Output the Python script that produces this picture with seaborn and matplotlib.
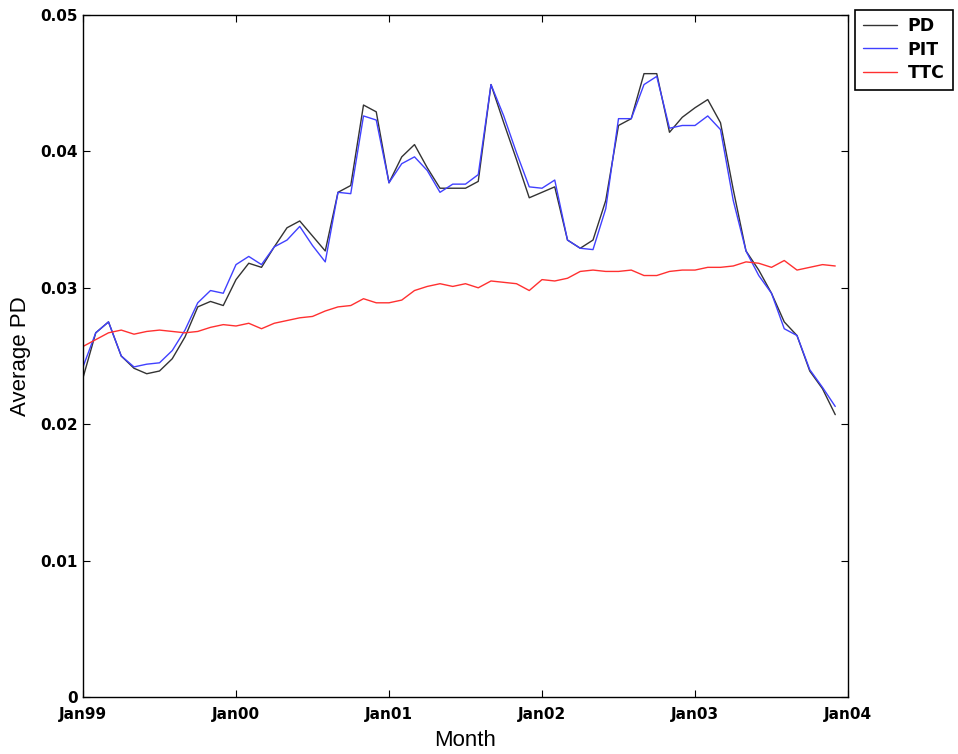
import numpy as np
import pandas as pd
import matplotlib
matplotlib.use("Agg")
import matplotlib.pyplot as plt
import seaborn as sns

# ---- data ----
tick_labels = ["Jan99", "Jan00", "Jan01", "Jan02", "Jan03", "Jan04"]
month_index = list(range(60))  # Jan99 .. Dec03

pd_vals = [0.0234, 0.0267, 0.0275, 0.0250, 0.0241, 0.0237, 0.0239, 0.0248, 0.0264, 0.0286,
           0.0290, 0.0287, 0.0306, 0.0318, 0.0315, 0.0330, 0.0344, 0.0349, 0.0338, 0.0327,
           0.0370, 0.0375, 0.0434, 0.0429, 0.0377, 0.0396, 0.0405, 0.0388, 0.0373, 0.0373,
           0.0373, 0.0378, 0.0449, 0.0421, 0.0394, 0.0366, 0.0370, 0.0374, 0.0335, 0.0329,
           0.0335, 0.0364, 0.0419, 0.0424, 0.0457, 0.0457, 0.0414, 0.0425, 0.0432, 0.0438,
           0.0421, 0.0372, 0.0327, 0.0313, 0.0296, 0.0275, 0.0265, 0.0239, 0.0226, 0.0207]

pit_vals = [0.0242, 0.0267, 0.0275, 0.0250, 0.0242, 0.0244, 0.0245, 0.0254, 0.0269, 0.0289,
            0.0298, 0.0296, 0.0317, 0.0323, 0.0317, 0.0330, 0.0335, 0.0345, 0.0331, 0.0319,
            0.0370, 0.0369, 0.0426, 0.0423, 0.0377, 0.0391, 0.0396, 0.0386, 0.0370, 0.0376,
            0.0376, 0.0383, 0.0449, 0.0426, 0.0399, 0.0374, 0.0373, 0.0379, 0.0335, 0.0329,
            0.0328, 0.0358, 0.0424, 0.0424, 0.0449, 0.0455, 0.0417, 0.0419, 0.0419, 0.0426,
            0.0416, 0.0364, 0.0327, 0.0309, 0.0296, 0.0270, 0.0265, 0.0240, 0.0227, 0.0213]

ttc_vals = [0.0257, 0.0262, 0.0267, 0.0269, 0.0266, 0.0268, 0.0269, 0.0268, 0.0267, 0.0268,
            0.0271, 0.0273, 0.0272, 0.0274, 0.0270, 0.0274, 0.0276, 0.0278, 0.0279, 0.0283,
            0.0286, 0.0287, 0.0292, 0.0289, 0.0289, 0.0291, 0.0298, 0.0301, 0.0303, 0.0301,
            0.0303, 0.0300, 0.0305, 0.0304, 0.0303, 0.0298, 0.0306, 0.0305, 0.0307, 0.0312,
            0.0313, 0.0312, 0.0312, 0.0313, 0.0309, 0.0309, 0.0312, 0.0313, 0.0313, 0.0315,
            0.0315, 0.0316, 0.0319, 0.0318, 0.0315, 0.0320, 0.0313, 0.0315, 0.0317, 0.0316]

series_names = ["PD", "PIT", "TTC"]
colors = {"PD": "#333333", "PIT": "#4040ff", "TTC": "#ff3030"}

df = pd.concat([
    pd.DataFrame({"month": month_index, "value": pd_vals, "series": "PD"}),
    pd.DataFrame({"month": month_index, "value": pit_vals, "series": "PIT"}),
    pd.DataFrame({"month": month_index, "value": ttc_vals, "series": "TTC"}),
], ignore_index=True)

# ---- style ----
sns.set_style("ticks")
plt.rcParams["font.family"] = ["DejaVu Sans"]
plt.rcParams["text.color"] = "black"
plt.rcParams["axes.labelcolor"] = "black"
plt.rcParams["xtick.color"] = "black"
plt.rcParams["ytick.color"] = "black"

fig = plt.figure(figsize=(9.58, 7.54), dpi=100)
ax = fig.add_axes([83 / 958, 1 - 697 / 754, (848 - 83) / 958, (697 - 15) / 754])

sns.lineplot(data=df, x="month", y="value", hue="series", hue_order=series_names,
             palette=colors, linewidth=1.0, ax=ax, legend=True)

ax.set_xlim(0, 60)
ax.set_ylim(0, 0.05)
ax.set_xticks([0, 12, 24, 36, 48, 60])
ax.set_xticklabels(tick_labels)
ax.set_yticks([0, 0.01, 0.02, 0.03, 0.04, 0.05])
ax.set_yticklabels(["0", "0.01", "0.02", "0.03", "0.04", "0.05"])

for lab in ax.get_xticklabels() + ax.get_yticklabels():
    lab.set_fontweight("bold")
    lab.set_fontsize(11)
    lab.set_color("black")

ax.tick_params(direction="in", length=5, width=0.8, top=True, right=True,
               colors="black", pad=4)
ax.tick_params(axis="x", pad=7)
for s in ax.spines.values():
    s.set_visible(True)
    s.set_linewidth(1.0)
    s.set_color("black")

ax.set_xlabel("Month", fontsize=16, family=["Liberation Sans"], labelpad=6, color="black")
ax.set_ylabel("Average PD", fontsize=16, family=["Liberation Sans"], labelpad=6, color="black")

leg = ax.legend(loc="upper left", bbox_to_anchor=(1.009, 1.008), borderaxespad=0,
                frameon=True, fancybox=False, edgecolor="black", framealpha=1,
                prop={"weight": "bold", "size": 12.5}, handlelength=2.0,
                borderpad=0.45, labelspacing=0.3, handletextpad=0.6)
leg.get_frame().set_linewidth(1.2)
for t in leg.get_texts():
    t.set_color("black")

fig.savefig("out.png", dpi=100, facecolor="white")
